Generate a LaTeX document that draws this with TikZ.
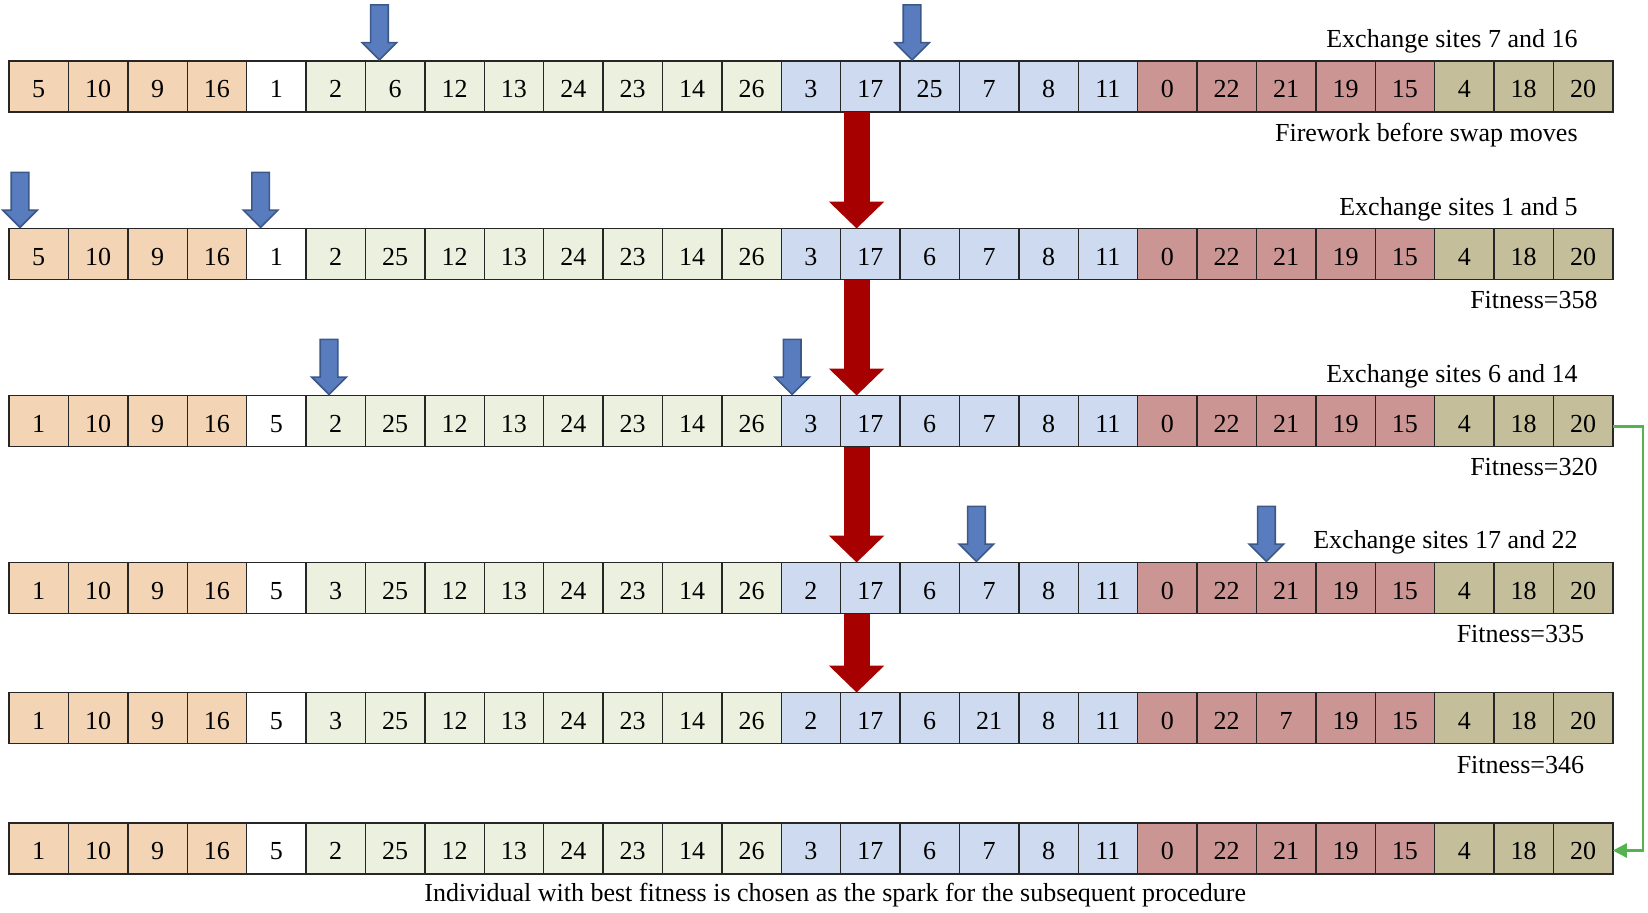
\documentclass[tikz,border=0pt]{standalone}
\usepackage{fontspec}
\setmainfont{Liberation Serif}
\usetikzlibrary{shapes.arrows,arrows.meta,calc}

\definecolor{orcell}{RGB}{243,213,182}
\definecolor{grcell}{RGB}{235,241,222}
\definecolor{blcell}{RGB}{205,218,240}
\definecolor{pkcell}{RGB}{203,149,147}
\definecolor{olcell}{RGB}{196,190,154}
\definecolor{siteblue}{RGB}{88,124,190}
\definecolor{siteedge}{RGB}{60,88,136}
\definecolor{movered}{RGB}{166,0,0}
\definecolor{bestgreen}{RGB}{84,178,80}

\begin{document}
\begin{tikzpicture}[
    x=0.5pt, y=-0.5pt,
    font=\fontsize{13pt}{15pt}\selectfont,
    gene/.style={rectangle, draw=black!85, line width=0.7pt, minimum width=29.7pt, minimum height=25.5pt, inner sep=0pt, outer sep=0pt, text height=11.2pt, text depth=0pt, anchor=north west},
    site/.style={single arrow, draw=siteedge, fill=siteblue, line width=0.8pt, shape border rotate=270, minimum height=27.5pt, minimum width=16.5pt, single arrow head extend=4.2pt, inner sep=4pt, anchor=tip},
    move/.style={draw=movered, line width=13pt, -{Triangle[width=27pt, length=13.5pt]}},
    best/.style={draw=bestgreen, line width=1.3pt, -{Triangle[width=7pt, length=7pt]}},
    note/.style={inner sep=0pt}
]
\useasboundingbox (0,0) rectangle (1648,912);

% the six fireworks
\foreach \genes [count=\r] in {
    {5,10,9,16,1,2,6,12,13,24,23,14,26,3,17,25,7,8,11,0,22,21,19,15,4,18,20},
    {5,10,9,16,1,2,25,12,13,24,23,14,26,3,17,6,7,8,11,0,22,21,19,15,4,18,20},
    {1,10,9,16,5,2,25,12,13,24,23,14,26,3,17,6,7,8,11,0,22,21,19,15,4,18,20},
    {1,10,9,16,5,3,25,12,13,24,23,14,26,2,17,6,7,8,11,0,22,21,19,15,4,18,20},
    {1,10,9,16,5,3,25,12,13,24,23,14,26,2,17,6,21,8,11,0,22,7,19,15,4,18,20},
    {1,10,9,16,5,2,25,12,13,24,23,14,26,3,17,6,7,8,11,0,22,21,19,15,4,18,20}}{
  \pgfmathsetmacro\rowy{{61,228.5,395.5,562.5,692.5,823}[\r-1]}
  \foreach \g [count=\c] in \genes {
    \ifnum\c<5 \def\tint{orcell}\else
    \ifnum\c<6 \def\tint{white}\else
    \ifnum\c<14 \def\tint{grcell}\else
    \ifnum\c<20 \def\tint{blcell}\else
    \ifnum\c<25 \def\tint{pkcell}\else
    \def\tint{olcell}\fi\fi\fi\fi\fi
    \node[gene, fill=\tint] (r\r-\c) at ({9+59.4*(\c-1)},\rowy) {\g};
  }
}

% exchange sites
\node[site] (s1a) at ($(r1-7.north west)+(14,0)$) {};
\node[site] (s1b) at ($(r1-16.north west)+(12,0)$) {};
\node[site] (s2a) at ($(r2-1.north west)+(11,0)$) {};
\node[site] (s2b) at ($(r2-5.north west)+(14,0)$) {};
\node[site] (s3a) at ($(r3-6.north west)+(23,0)$) {};
\node[site] (s3b) at ($(r3-14.north west)+(11,0)$) {};
\node[site] (s4a) at ($(r4-17.north west)+(17,0)$) {};
\node[site] (s4b) at ($(r4-22.north west)+(10,0)$) {};

% swap moves
\draw[move] ($(r1-15.south west)+(16,0)$) -- ($(r2-15.north west)+(16,0)$);
\draw[move] ($(r2-15.south west)+(16,0)$) -- ($(r3-15.north west)+(16,0)$);
\draw[move] ($(r3-15.south west)+(16,0)$) -- ($(r4-15.north west)+(16,0)$);
\draw[move] ($(r4-15.south west)+(16,0)$) -- ($(r5-15.north west)+(16,0)$);

% best individual
\draw[best] ([yshift=-2.8pt]r3-27.east) -- ++(30,0) |- ([yshift=-1pt]r6-27.east);

% texts
\node[note, anchor=base east] (ex1) at (1578,47.5) {Exchange sites 7 and 16};
\node[note, anchor=base east] (fw) at (1578,141) {Firework before swap moves};
\node[note, anchor=base east] (ex2) at (1578,215) {Exchange sites 1 and 5};
\node[note, anchor=base east] (fit2) at (1598,308) {Fitness=358};
\node[note, anchor=base east] (ex3) at (1578,382) {Exchange sites 6 and 14};
\node[note, anchor=base east] (fit3) at (1598,475) {Fitness=320};
\node[note, anchor=base east] (ex4) at (1578,548.5) {Exchange sites 17 and 22};
\node[note, anchor=base east] (fit4) at (1584.5,642) {Fitness=335};
\node[note, anchor=base east] (fit5) at (1584.5,773) {Fitness=346};
\node[note, anchor=base west] (spark) at (424,901) {Individual with best fitness is chosen as the spark for the subsequent procedure};
\end{tikzpicture}
\end{document}
